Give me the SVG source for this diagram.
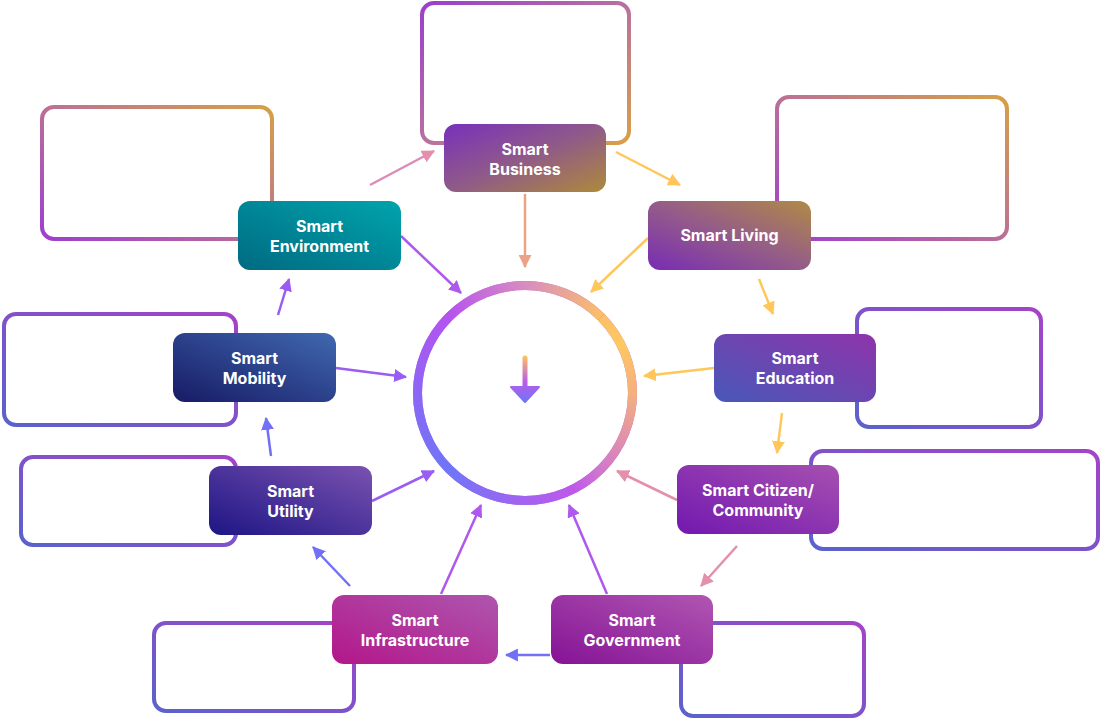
<svg xmlns="http://www.w3.org/2000/svg" width="1102" height="720" viewBox="0 0 1102 720">
<style>
.ol{fill:#ffffff;stroke-width:4}
.nd{stroke:none}
.lbl{font-family:Inter,"Noto Sans","Liberation Sans",sans-serif;font-weight:700;font-size:16px;fill:#ffffff;text-anchor:middle}
.cn{fill:none;stroke-width:2.5}
.arc{fill:none;stroke-width:9}
</style>
<defs>
<linearGradient id="olWarmA" x1="0" y1="0" x2="1" y2="1"><stop offset="0" stop-color="#9a3fcc"/><stop offset="0.5" stop-color="#b870a0"/><stop offset="1" stop-color="#d8a048"/></linearGradient>
<linearGradient id="olWarm" x1="0" y1="1" x2="1" y2="0"><stop offset="0" stop-color="#9e3ed0"/><stop offset="0.5" stop-color="#bb7096"/><stop offset="1" stop-color="#d6a046"/></linearGradient>
<linearGradient id="olCool" x1="0" y1="1" x2="1" y2="0"><stop offset="0" stop-color="#5a62cc"/><stop offset="1" stop-color="#a443c8"/></linearGradient>
<linearGradient id="gBus" x1="0" y1="0" x2="1" y2="1"><stop offset="0" stop-color="#7830bc"/><stop offset="0.5" stop-color="#905a88"/><stop offset="1" stop-color="#ad8a3a"/></linearGradient>
<linearGradient id="gEnv" x1="0" y1="1" x2="1" y2="0"><stop offset="0" stop-color="#006a82"/><stop offset="1" stop-color="#00a4ac"/></linearGradient>
<linearGradient id="gLiv" x1="0" y1="1" x2="1" y2="0"><stop offset="0" stop-color="#782cb5"/><stop offset="0.5" stop-color="#945c88"/><stop offset="1" stop-color="#b08a46"/></linearGradient>
<linearGradient id="gEdu" x1="0" y1="1" x2="1" y2="0"><stop offset="0" stop-color="#4858b8"/><stop offset="1" stop-color="#8e34aa"/></linearGradient>
<linearGradient id="gCit" x1="0" y1="1" x2="1" y2="0"><stop offset="0" stop-color="#7218b0"/><stop offset="1" stop-color="#a650b0"/></linearGradient>
<linearGradient id="gGov" x1="0" y1="1" x2="1" y2="0"><stop offset="0" stop-color="#851395"/><stop offset="1" stop-color="#b056b2"/></linearGradient>
<linearGradient id="gInf" x1="0" y1="1" x2="1" y2="0"><stop offset="0" stop-color="#b3168a"/><stop offset="1" stop-color="#ae56ae"/></linearGradient>
<linearGradient id="gUti" x1="0" y1="1" x2="1" y2="0"><stop offset="0" stop-color="#1d1585"/><stop offset="1" stop-color="#7a52b0"/></linearGradient>
<linearGradient id="gMob" x1="0" y1="1" x2="1" y2="0"><stop offset="0" stop-color="#171b65"/><stop offset="1" stop-color="#4068b0"/></linearGradient>
<linearGradient id="a1" gradientUnits="userSpaceOnUse" x1="417.5" y1="393" x2="448.99" y2="316.99"><stop offset="0" stop-color="#8c66f5"/><stop offset="1" stop-color="#b652f0"/></linearGradient>
<linearGradient id="a2" gradientUnits="userSpaceOnUse" x1="448.99" y1="316.99" x2="525" y2="285.5"><stop offset="0" stop-color="#b652f0"/><stop offset="1" stop-color="#d88cc0"/></linearGradient>
<linearGradient id="a3" gradientUnits="userSpaceOnUse" x1="525" y1="285.5" x2="601.01" y2="316.99"><stop offset="0" stop-color="#d88cc0"/><stop offset="1" stop-color="#fcbf68"/></linearGradient>
<linearGradient id="a4" gradientUnits="userSpaceOnUse" x1="601.01" y1="316.99" x2="632.5" y2="393"><stop offset="0" stop-color="#fcbf68"/><stop offset="0.4" stop-color="#ffc860"/><stop offset="1" stop-color="#f4b07e"/></linearGradient>
<linearGradient id="a5" gradientUnits="userSpaceOnUse" x1="632.5" y1="393" x2="601.01" y2="469.01"><stop offset="0" stop-color="#f4b07e"/><stop offset="1" stop-color="#d278cc"/></linearGradient>
<linearGradient id="a6" gradientUnits="userSpaceOnUse" x1="601.01" y1="469.01" x2="525" y2="500.5"><stop offset="0" stop-color="#d278cc"/><stop offset="0.4" stop-color="#bf58ea"/><stop offset="1" stop-color="#a462f0"/></linearGradient>
<linearGradient id="a7" gradientUnits="userSpaceOnUse" x1="525" y1="500.5" x2="448.99" y2="469.01"><stop offset="0" stop-color="#a462f0"/><stop offset="1" stop-color="#6e76f8"/></linearGradient>
<linearGradient id="a8" gradientUnits="userSpaceOnUse" x1="448.99" y1="469.01" x2="417.5" y2="393"><stop offset="0" stop-color="#6e76f8"/><stop offset="1" stop-color="#8c66f5"/></linearGradient>
<linearGradient id="cArrow" gradientUnits="userSpaceOnUse" x1="525" y1="356" x2="525" y2="403"><stop offset="0" stop-color="#ffc060"/><stop offset="0.55" stop-color="#b85ee8"/><stop offset="1" stop-color="#6e74f8"/></linearGradient>
<marker id="mY" viewBox="0 0 12 12" markerUnits="userSpaceOnUse" markerWidth="13" markerHeight="13" refX="11" refY="6" orient="auto"><path d="M0,0 L12,6 L0,12 Z" fill="#ffc75a"/></marker>
<marker id="mP" viewBox="0 0 12 12" markerUnits="userSpaceOnUse" markerWidth="13" markerHeight="13" refX="11" refY="6" orient="auto"><path d="M0,0 L12,6 L0,12 Z" fill="#e48fac"/></marker>
<marker id="mS" viewBox="0 0 12 12" markerUnits="userSpaceOnUse" markerWidth="13" markerHeight="13" refX="11" refY="6" orient="auto"><path d="M0,0 L12,6 L0,12 Z" fill="#eba286"/></marker>
<marker id="mV" viewBox="0 0 12 12" markerUnits="userSpaceOnUse" markerWidth="13" markerHeight="13" refX="11" refY="6" orient="auto"><path d="M0,0 L12,6 L0,12 Z" fill="#ae58ee"/></marker>
<marker id="mM" viewBox="0 0 12 12" markerUnits="userSpaceOnUse" markerWidth="13" markerHeight="13" refX="11" refY="6" orient="auto"><path d="M0,0 L12,6 L0,12 Z" fill="#9a5cf2"/></marker>
<marker id="mB" viewBox="0 0 12 12" markerUnits="userSpaceOnUse" markerWidth="13" markerHeight="13" refX="11" refY="6" orient="auto"><path d="M0,0 L12,6 L0,12 Z" fill="#7470f6"/></marker>
</defs>
<rect width="1102" height="720" fill="#ffffff"/>

<g id="hub">
<circle cx="525" cy="393" r="107.5" fill="none" stroke="#b070e0" stroke-width="9"/>
<path class="arc" stroke="url(#a1)" d="M417.5,393 A107.5,107.5 0 0 1 448.99,316.99"/>
<path class="arc" stroke="url(#a2)" d="M448.99,316.99 A107.5,107.5 0 0 1 525,285.5"/>
<path class="arc" stroke="url(#a3)" d="M525,285.5 A107.5,107.5 0 0 1 601.01,316.99"/>
<path class="arc" stroke="url(#a4)" d="M601.01,316.99 A107.5,107.5 0 0 1 632.5,393"/>
<path class="arc" stroke="url(#a5)" d="M632.5,393 A107.5,107.5 0 0 1 601.01,469.01"/>
<path class="arc" stroke="url(#a6)" d="M601.01,469.01 A107.5,107.5 0 0 1 525,500.5"/>
<path class="arc" stroke="url(#a7)" d="M525,500.5 A107.5,107.5 0 0 1 448.99,469.01"/>
<path class="arc" stroke="url(#a8)" d="M448.99,469.01 A107.5,107.5 0 0 1 417.5,393"/>
<line x1="525" y1="358" x2="525" y2="388" stroke="url(#cArrow)" stroke-width="5" stroke-linecap="round"/>
<path d="M511,387 L539,387 L525,402 Z" fill="url(#cArrow)" stroke="url(#cArrow)" stroke-width="2" stroke-linejoin="round"/>
</g>

<g id="connectors">
<line class="cn" stroke="#dc8cb8" marker-end="url(#mP)" x1="370" y1="185" x2="434" y2="151"/>
<line class="cn" stroke="#ffc75a" marker-end="url(#mY)" x1="616" y1="152" x2="680" y2="185"/>
<line class="cn" stroke="#eba286" marker-end="url(#mS)" x1="525" y1="194" x2="525" y2="267"/>
<line class="cn" stroke="#ffc75a" marker-end="url(#mY)" x1="648" y1="238" x2="591" y2="292"/>
<line class="cn" stroke="#ffc75a" marker-end="url(#mY)" x1="759" y1="279" x2="773" y2="314"/>
<line class="cn" stroke="#ffc75a" marker-end="url(#mY)" x1="714" y1="368" x2="644" y2="376"/>
<line class="cn" stroke="#ffc75a" marker-end="url(#mY)" x1="782" y1="413" x2="777" y2="453"/>
<line class="cn" stroke="#e48fac" marker-end="url(#mP)" x1="677" y1="500" x2="617" y2="471"/>
<line class="cn" stroke="#e48fac" marker-end="url(#mP)" x1="737" y1="546" x2="701" y2="586"/>
<line class="cn" stroke="#ae58ee" marker-end="url(#mV)" x1="607" y1="594" x2="569" y2="505"/>
<line class="cn" stroke="#7470f6" marker-end="url(#mB)" x1="550" y1="655" x2="506" y2="655"/>
<line class="cn" stroke="#ae58ee" marker-end="url(#mV)" x1="441" y1="594" x2="481" y2="505"/>
<line class="cn" stroke="#7470f6" marker-end="url(#mB)" x1="350" y1="586" x2="313" y2="547"/>
<line class="cn" stroke="#9a5cf2" marker-end="url(#mM)" x1="372" y1="501" x2="434" y2="471"/>
<line class="cn" stroke="#7470f6" marker-end="url(#mB)" x1="271" y1="456" x2="266" y2="418"/>
<line class="cn" stroke="#9a5cf2" marker-end="url(#mM)" x1="336" y1="368" x2="406" y2="377"/>
<line class="cn" stroke="#9a5cf2" marker-end="url(#mM)" x1="278" y1="315" x2="289" y2="279"/>
<line class="cn" stroke="#ae58ee" marker-end="url(#mV)" x1="401" y1="236" x2="461" y2="293"/>
</g>

<g id="node-business">
<rect class="ol" stroke="url(#olWarmA)" x="422" y="3" width="207" height="140" rx="12"/>
<rect class="nd" fill="url(#gBus)" x="444" y="124" width="162" height="68" rx="12"/>
<text class="lbl" x="525" y="155">Smart</text><text class="lbl" x="525" y="175">Business</text>
</g>
<g id="node-environment">
<rect class="ol" stroke="url(#olWarm)" x="42" y="107" width="230" height="132" rx="12"/>
<rect class="nd" fill="url(#gEnv)" x="238" y="201" width="163" height="69" rx="12"/>
<text class="lbl" x="319.5" y="232">Smart</text><text class="lbl" x="319.5" y="252">Environment</text>
</g>
<g id="node-living">
<rect class="ol" stroke="url(#olWarm)" x="777" y="97" width="230" height="142" rx="12"/>
<rect class="nd" fill="url(#gLiv)" x="648" y="201" width="163" height="69" rx="12"/>
<text class="lbl" x="729.5" y="241">Smart Living</text>
</g>
<g id="node-education">
<rect class="ol" stroke="url(#olCool)" x="857" y="309" width="184" height="118" rx="12"/>
<rect class="nd" fill="url(#gEdu)" x="714" y="334" width="162" height="68" rx="12"/>
<text class="lbl" x="795" y="364">Smart</text><text class="lbl" x="795" y="384">Education</text>
</g>
<g id="node-citizen">
<rect class="ol" stroke="url(#olCool)" x="811" y="451" width="287" height="98" rx="12"/>
<rect class="nd" fill="url(#gCit)" x="677" y="465" width="162" height="69" rx="12"/>
<text class="lbl" x="758" y="496">Smart Citizen/</text><text class="lbl" x="758" y="516">Community</text>
</g>
<g id="node-government">
<rect class="ol" stroke="url(#olCool)" x="681" y="623" width="183" height="93" rx="12"/>
<rect class="nd" fill="url(#gGov)" x="551" y="595" width="162" height="69" rx="12"/>
<text class="lbl" x="632" y="626">Smart</text><text class="lbl" x="632" y="646">Government</text>
</g>
<g id="node-infrastructure">
<rect class="ol" stroke="url(#olCool)" x="154" y="623" width="200" height="88" rx="12"/>
<rect class="nd" fill="url(#gInf)" x="332" y="595" width="166" height="69" rx="12"/>
<text class="lbl" x="415" y="626">Smart</text><text class="lbl" x="415" y="646">Infrastructure</text>
</g>
<g id="node-utility">
<rect class="ol" stroke="url(#olCool)" x="21" y="457" width="215" height="88" rx="12"/>
<rect class="nd" fill="url(#gUti)" x="209" y="466" width="163" height="69" rx="12"/>
<text class="lbl" x="290.5" y="497">Smart</text><text class="lbl" x="290.5" y="517">Utility</text>
</g>
<g id="node-mobility">
<rect class="ol" stroke="url(#olCool)" x="4" y="314" width="232" height="111" rx="12"/>
<rect class="nd" fill="url(#gMob)" x="173" y="333" width="163" height="69" rx="12"/>
<text class="lbl" x="254.5" y="364">Smart</text><text class="lbl" x="254.5" y="384">Mobility</text>
</g>
</svg>
